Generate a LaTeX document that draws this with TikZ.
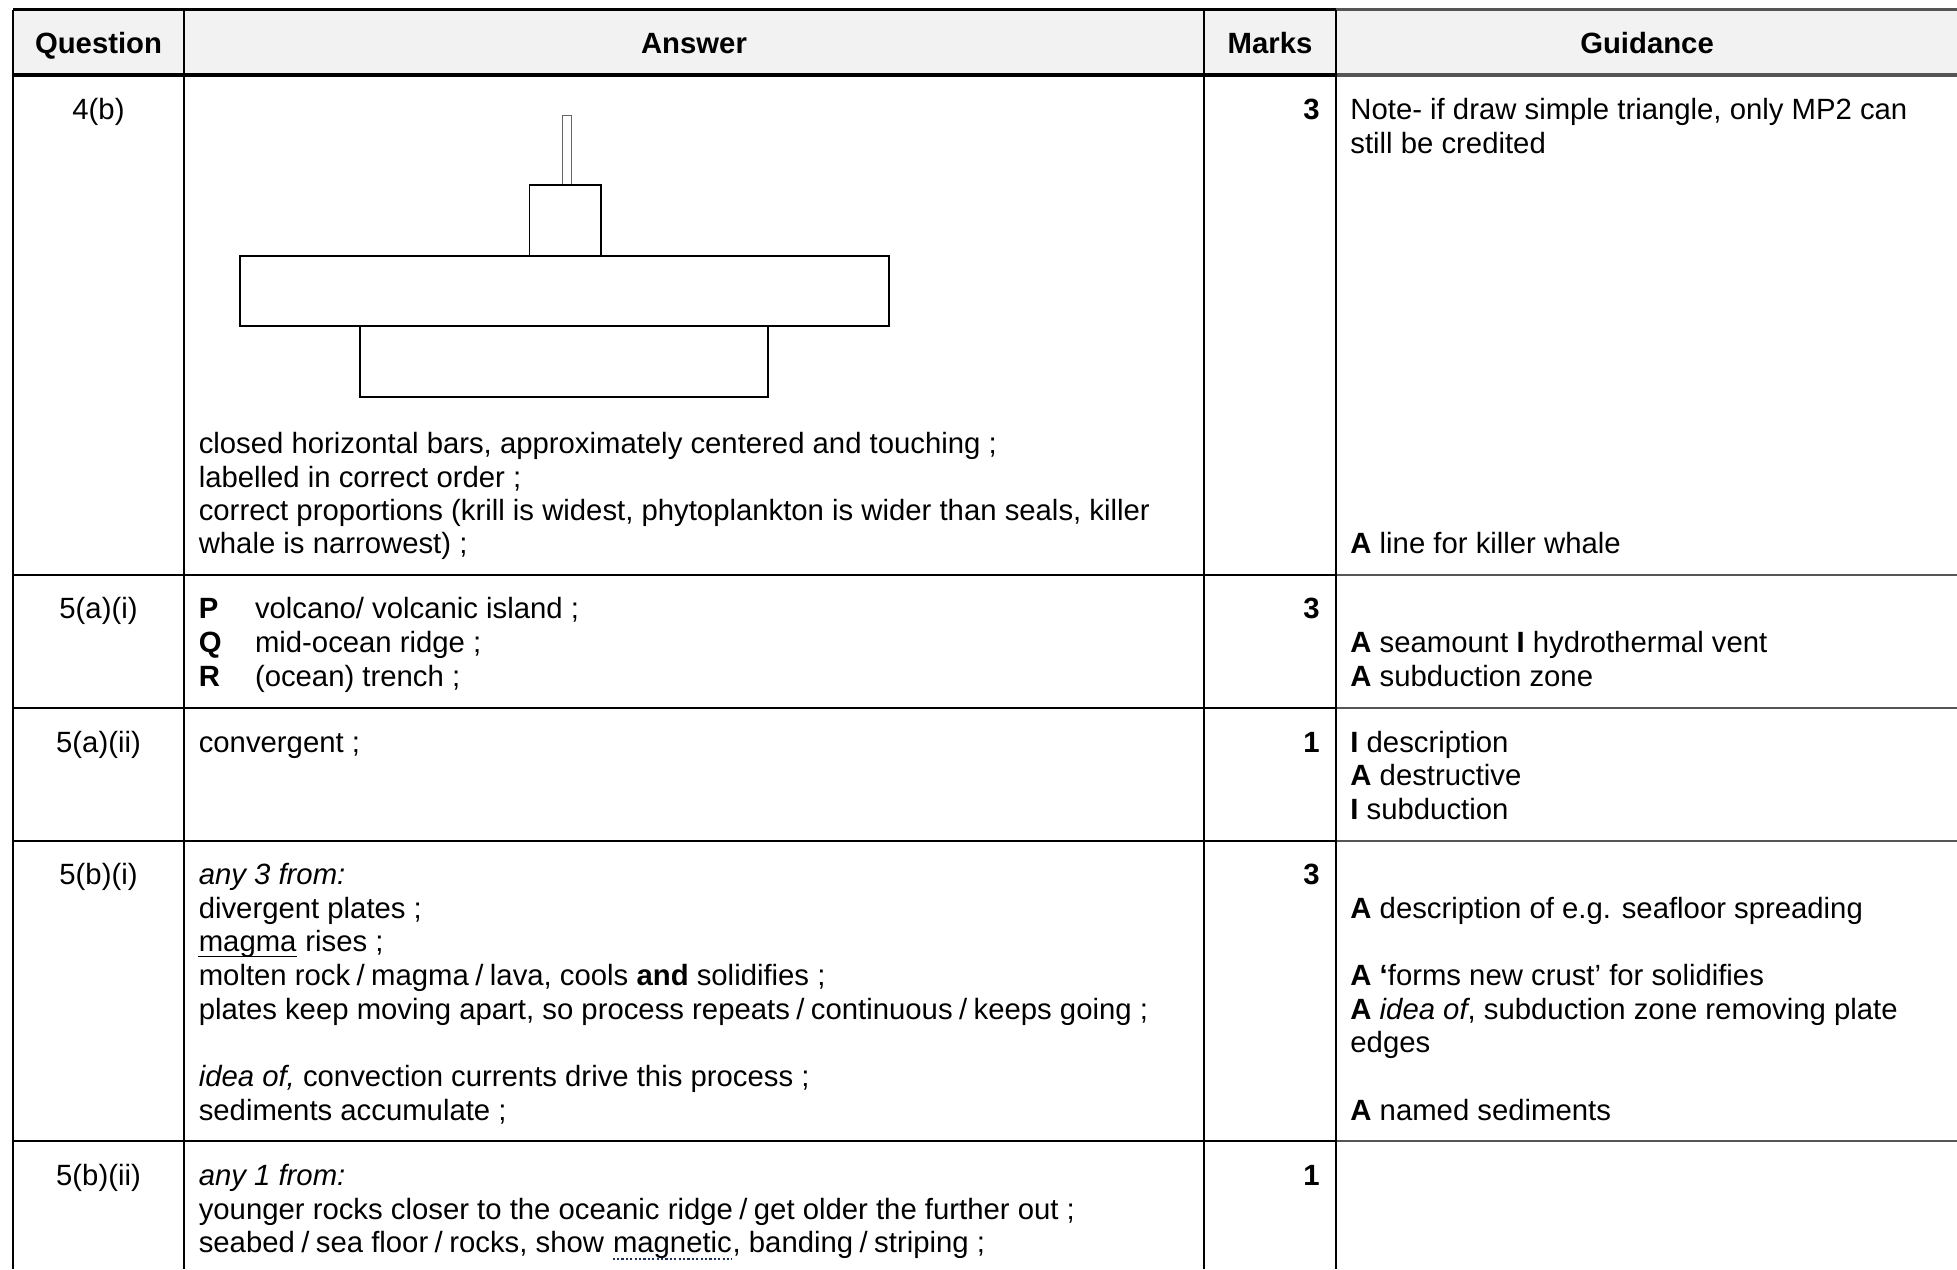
\documentclass[tikz,border=0pt]{standalone}
\usepackage{fontspec}
\setmainfont{Liberation Sans}
\definecolor{hdfill}{HTML}{F2F2F2}
\definecolor{gline}{HTML}{555555}
\definecolor{dotcol}{HTML}{1F2F5F}
\newcommand\sls{\hspace{0.22em}/\hspace{0.22em}}
\begin{document}
\begin{tikzpicture}[x=0.5pt,y=-0.5pt,
  txt/.style={anchor=base west,inner sep=0pt,font=\fontsize{14.65}{17}\selectfont},
  ctr/.style={anchor=base,inner sep=0pt,font=\fontsize{14.65}{17}\selectfont},
  rgt/.style={anchor=base east,inner sep=0pt,font=\fontsize{14.65}{17}\selectfont\bfseries},
  hd/.style={anchor=base,inner sep=0pt,font=\fontsize{14.65}{17}\selectfont\bfseries},
  tline/.style={line width=1.1pt,black},
  bar/.style={line width=0.95pt,black}]
\useasboundingbox (0,0) rectangle (1957,1269);
% header
\fill[hdfill] (13,9.5) rectangle (1957,75);
\draw[tline] (13,9.5) -- (1336,9.5);
\draw[line width=1.1pt,gline] (1336,9.5) -- (1957,9.5);
\draw[line width=1.6pt] (13,75) -- (1336,75);
\draw[line width=1.6pt,gline] (1336,75) -- (1957,75);
% row lines
\foreach \yy in {575,708,841,1141}{
  \draw[tline] (13,\yy) -- (1336,\yy);
  \draw[line width=1.1pt,gline] (1336,\yy) -- (1957,\yy);
}
% vertical lines
\foreach \xx in {13,184,1204,1336}{
  \draw[tline] (\xx,9.5) -- (\xx,1269);
}
% header text
\node[hd] (hq) at (98.5,53) {Question};
\node[hd] (ha) at (694,53) {Answer};
\node[hd] (hm) at (1270,53) {Marks};
\node[hd] (hg) at (1647,53) {Guidance};
% row 4(b)
\node[ctr] (q4b) at (98.5,119) {4(b)};
\node[rgt] (m4b) at (1320,119) {3};
\node[txt] (g4b1) at (1350,119) {Note- if draw simple triangle, only MP2 can};
\node[txt] (g4b2) at (1350,153) {still be credited};
\draw[line width=0.35pt,black!60] (562,115) rectangle (571,185);
\draw[bar] (529.5,185) rectangle (601,256);
\draw[bar] (240,256) rectangle (889,326);
\draw[bar] (360,326) rectangle (768,397);
\node[txt] (a4b1) at (198.4,453.5) {closed horizontal bars, approximately centered and touching ;};
\node[txt] (a4b2) at (198.4,487) {labelled in correct order ;};
\node[txt] (a4b3) at (198.4,520) {correct proportions (krill is widest, phytoplankton is wider than seals, killer};
\node[txt] (a4b4) at (198.4,553.5) {whale is narrowest) ;};
\node[txt] (g4b3) at (1350,553.5) {\textbf{A} line for killer whale};
% row 5(a)(i)
\node[ctr] (q5ai) at (98.5,618) {5(a)(i)};
\node[rgt] (m5ai) at (1320,618) {3};
\node[txt] (p5) at (198.4,618) {\textbf{P}};
\node[txt] (q5) at (198.4,652) {\textbf{Q}};
\node[txt] (r5) at (198.4,686) {\textbf{R}};
\node[txt] (a5ai1) at (254.6,618) {volcano/ volcanic island ;};
\node[txt] (a5ai2) at (254.6,652) {mid-ocean ridge ;};
\node[txt] (a5ai3) at (254.6,686) {(ocean) trench ;};
\node[txt] (g5ai1) at (1350,652) {\textbf{A} seamount \textbf{I} hydrothermal vent};
\node[txt] (g5ai2) at (1350,686) {\textbf{A} subduction zone};
% row 5(a)(ii)
\node[ctr] (q5aii) at (98.5,752) {5(a)(ii)};
\node[rgt] (m5aii) at (1320,752) {1};
\node[txt] (a5aii) at (198.4,752) {convergent ;};
\node[txt] (g5aii1) at (1350,752) {\textbf{I} description};
\node[txt] (g5aii2) at (1350,785.5) {\textbf{A} destructive};
\node[txt] (g5aii3) at (1350,819) {\textbf{I} subduction};
% row 5(b)(i)
\node[ctr] (q5bi) at (98.5,884) {5(b)(i)};
\node[rgt] (m5bi) at (1320,884) {3};
\node[txt] (a5bi1) at (198.4,884) {\textit{any 3 from:}};
\node[txt] (a5bi2) at (198.4,918) {divergent plates ;};
\node[txt] (a5bi3a) at (198.4,951.5) {magma};
\node[txt] (a5bi3b) at (a5bi3a.base east) {\ rises ;};
\draw[line width=0.7pt] ([yshift=-2.6pt]a5bi3a.base west) -- ([yshift=-2.6pt]a5bi3a.base east);
\node[txt] (a5bi4) at (198.4,985) {molten rock\sls magma\sls lava, cools \textbf{and} solidifies ;};
\node[txt] (a5bi5) at (198.4,1019) {plates keep moving apart, so process repeats\sls continuous\sls keeps going ;};
\node[txt] (a5bi6) at (198.4,1086) {\textit{idea of,} convection currents drive this process ;};
\node[txt] (a5bi7) at (198.4,1120) {sediments accumulate ;};
\node[txt] (g5bi1) at (1350,918) {\textbf{A} description of e.g. seafloor spreading};
\node[txt] (g5bi2) at (1350,985) {\textbf{A ‘}forms new crust’ for solidifies};
\node[txt] (g5bi3) at (1350,1019) {\textbf{A} \textit{idea of}, subduction zone removing plate};
\node[txt] (g5bi4) at (1350,1052.5) {edges};
\node[txt] (g5bi5) at (1350,1120) {\textbf{A} named sediments};
% row 5(b)(ii)
\node[ctr] (q5bii) at (98.5,1185) {5(b)(ii)};
\node[rgt] (m5bii) at (1320,1185) {1};
\node[txt] (a5bii1) at (198.4,1185) {\textit{any 1 from:}};
\node[txt] (a5bii2) at (198.4,1219) {younger rocks closer to the oceanic ridge\sls get older the further out ;};
\node[txt] (a5bii3a) at (198.4,1252) {seabed\sls sea floor\sls rocks, show\ \null};
\node[txt] (a5bii3b) at (a5bii3a.base east) {magnetic};
\node[txt] (a5bii3c) at (a5bii3b.base east) {, banding\sls striping ;};
\draw[line width=1.1pt,dotcol,dash pattern=on 1.1pt off 1.1pt] ([yshift=-3.6pt]a5bii3b.base west) -- ([yshift=-3.6pt]a5bii3b.base east);
\end{tikzpicture}
\end{document}
